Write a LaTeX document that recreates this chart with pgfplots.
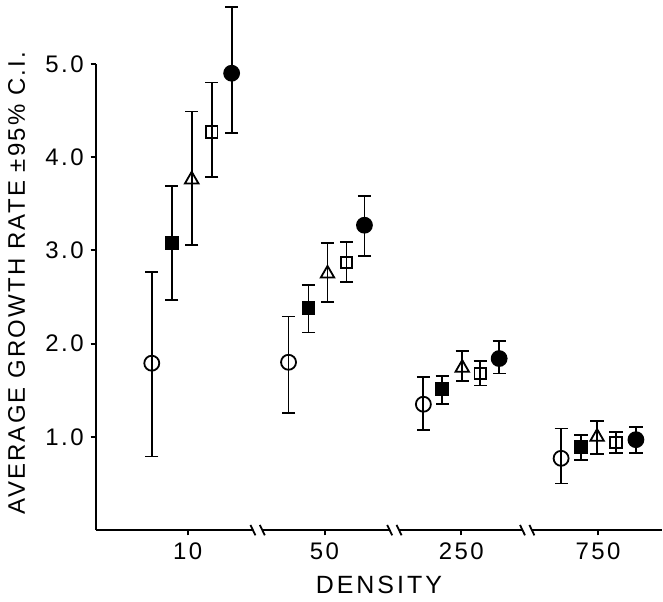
\documentclass[border=0pt]{standalone}
\usepackage{fontspec}
\setmainfont{Liberation Sans}
\usepackage{pgfplots}
\pgfplotsset{compat=1.18}

% columns: x position, mean, +CI, -CI
\pgfplotstableread{
x y ep em
0.737 1.79 0.98 1.00
1.737 1.80 0.49 0.54
2.723 1.35 0.29 0.28
3.730 0.77 0.32 0.27
}\opencirc
\pgfplotstableread{
x y ep em
0.883 3.08 0.61 0.61
1.883 2.38 0.25 0.26
2.861 1.51 0.14 0.16
3.876 0.89 0.13 0.14
}\fillsq
\pgfplotstableread{
x y ep em
1.029 3.76 0.73 0.70
2.022 2.75 0.33 0.30
3.007 1.74 0.18 0.14
3.993 1.00 0.17 0.18
}\opentri
\pgfplotstableread{
x y ep em
1.175 4.27 0.53 0.48
2.161 2.87 0.22 0.21
3.139 1.68 0.13 0.13
4.131 0.94 0.11 0.11
}\opensq
\pgfplotstableread{
x y ep em
1.321 4.90 0.71 0.64
2.292 3.27 0.31 0.33
3.277 1.84 0.19 0.16
4.277 0.97 0.14 0.14
}\fillcirc

\pgfplotsset{ebar/.style={only marks,black,line width=0.9pt,
    error bars/y dir=both,error bars/y explicit,
    error bars/error bar style={line width=0.9pt,solid},
    error bars/error mark options={rotate=90,mark size=3.3pt,line width=0.9pt}}}

\begin{document}
\begin{tikzpicture}
\begin{axis}[
  scale only axis,
  width=283.5pt,height=233.5pt,
  xmin=0.328,xmax=4.467,ymin=0,ymax=5,
  clip=false,
  axis x line*=bottom,axis y line*=left,
  axis line style={line width=1.1pt},
  tick align=outside,major tick length=2.6pt,
  tick style={line width=1pt,black},
  xtick={1,2,3,4},xticklabels={10,50,250,750},
  ytick={1,2,3,4,5},
  /pgf/number format/assume math mode=true,
  yticklabel style={/pgf/number format/.cd,fixed,fixed zerofill,precision=1},
  ticklabel style={font=\fontsize{12}{14}\selectfont\addfontfeature{LetterSpace=10}},
  xlabel={DENSITY},
  ylabel={AVERAGE GROWTH RATE ±95\% C.I.},
  xlabel style={at={(axis description cs:0.5,-0.118)},anchor=center,
    font=\fontsize{12.5}{14}\selectfont\addfontfeature{LetterSpace=12}},
  ylabel style={at={(axis description cs:-0.14,0.53)},anchor=center,
    font=\fontsize{12}{14}\selectfont\addfontfeature{LetterSpace=9}},
]
\addplot[ebar,mark=o,mark size=3.75pt,mark options={fill=white,solid,line width=0.9pt}]
  table[x=x,y=y,y error plus=ep,y error minus=em]{\opencirc};
\addplot[ebar,mark=square*,mark size=3pt,mark options={fill=black,solid}]
  table[x=x,y=y,y error plus=ep,y error minus=em]{\fillsq};
\addplot[ebar,mark=triangle,mark size=3.9pt,mark options={fill=white,solid,line width=0.9pt}]
  table[x=x,y=y,y error plus=ep,y error minus=em]{\opentri};
\addplot[ebar,mark=square,mark size=2.9pt,mark options={fill=white,solid,line width=0.9pt}]
  table[x=x,y=y,y error plus=ep,y error minus=em]{\opensq};
\addplot[ebar,mark=*,mark size=3.75pt,mark options={fill=black,solid}]
  table[x=x,y=y,y error plus=ep,y error minus=em]{\fillcirc};
\coordinate (b1) at (axis cs:1.511,0);
\coordinate (b2) at (axis cs:2.511,0);
\coordinate (b3) at (axis cs:3.482,0);
\coordinate (sw) at (rel axis cs:0,0);
\end{axis}
\foreach \b in {b1,b2,b3}{
  \fill[white] ([xshift=-2.3pt,yshift=-1pt]\b) rectangle ([xshift=2.3pt,yshift=1pt]\b);
  \draw[line width=0.9pt] ([xshift=-3.6pt,yshift=2.6pt]\b) -- ([xshift=-1.1pt,yshift=-2.6pt]\b);
  \draw[line width=0.9pt] ([xshift=1.1pt,yshift=2.6pt]\b) -- ([xshift=3.6pt,yshift=-2.6pt]\b);
}
\path (sw) ++(-48pt,-35.5pt) rectangle ++(331.5pt,301pt);
\end{tikzpicture}
\end{document}
